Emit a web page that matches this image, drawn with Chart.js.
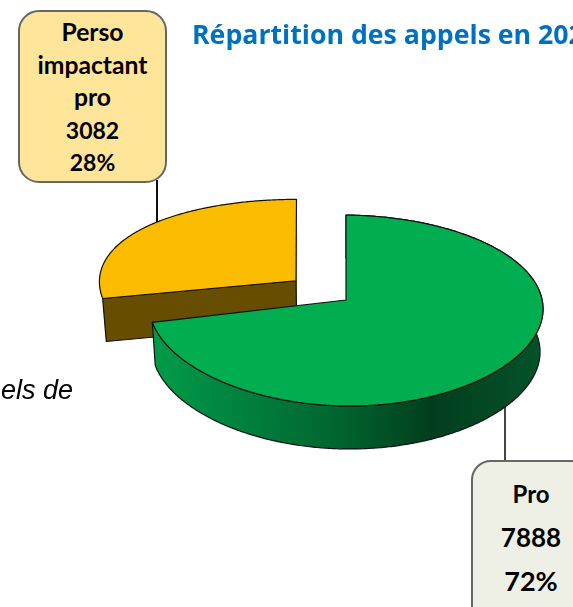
<!DOCTYPE html>
<html lang="fr"><head><meta charset="utf-8">
<style>
html,body{margin:0;padding:0;background:#fff;width:573px;height:607px;overflow:hidden}
#wrap{position:relative;width:573px;height:607px;overflow:hidden}
canvas{position:absolute;left:0;top:0}
.box{position:absolute;box-sizing:border-box;border:2px solid #666;text-align:center;font-family:Lato,sans-serif;font-weight:700;color:#000}
.line{position:absolute;width:2px}
#t{position:absolute;left:192px;top:15px;white-space:nowrap;font:700 26.7px "Open Sans",sans-serif;color:#0070C0;font-variant-ligatures:none}
#n{position:absolute;right:500px;top:375px;white-space:nowrap;font:italic 27px "Liberation Sans",sans-serif;color:#000}
</style></head><body>
<div id="wrap">
<div class="line" style="left:156px;top:180px;height:50px;background:#111"></div>
<div class="line" style="left:504px;top:400px;height:62px;background:#444"></div>
<canvas id="c" width="573" height="607"></canvas>
<div id="t"></div><div id="n"></div>
<div class="box" id="b1" style="left:18px;top:10px;width:149px;height:173px;border-radius:21px;background:#FEE599;padding-top:4px;line-height:32.5px"></div>
<div class="box" id="b2" style="left:471px;top:460px;width:120px;height:170px;border-radius:20px;background:#EEF0E6;padding-top:10px;line-height:43.5px"></div>
</div>
<script src="https://cdn.jsdelivr.net/npm/chart.js@4/dist/chart.umd.min.js"></script>
<script>
const titleText = "Répartition des appels en 2022";
const noteText = "els de";
const categories = ["Pro", "Perso impactant pro"];
const calloutLines = [["Pro"], ["Perso", "impactant", "pro"]];
const values = [7888, 3082];
const percents = ["72%", "28%"];
const topColors = ["#00AE50", "#FBBC00"];

document.getElementById('t').textContent = titleText;
document.getElementById('n').textContent = noteText;
function fill(id, i, wordPx, numPx, pctPx){
  const el = document.getElementById(id);
  const rows = calloutLines[i].map(s=>[s,wordPx]).concat([[String(values[i]),numPx],[percents[i],pctPx]]);
  rows.forEach(r=>{ const d=document.createElement('div'); d.textContent=r[0]; d.style.fontSize=r[1]+'px'; el.appendChild(d); });
}
fill('b2',0,24,26,27); fill('b1',1,24.7,23,23);

// projective view of the disc
const V = {cx:346, cy:300, c:197, a:94.3, by:0.11, bx:0.01, depth:43, s:0.985};
function proj(u, v, lower, lift){
  const x = V.c*u/(1-V.bx*v), y = V.a*v/(1-V.by*v) + (lift||0);
  return lower ? [V.cx+V.s*x, V.cy+V.depth+y] : [V.cx+x, V.cy+y];
}
function arcPts(a0, a1, ou, ov, lower, q, k){
  const n = Math.max(8, Math.ceil((a1-a0)/0.01)), p = [];
  for(let i=0;i<=n;i++){
    const t=a0+(a1-a0)*i/n, cu=Math.cos(t);
    p.push(proj(cu+ou, Math.sin(t)+ov, lower, q*cu*cu+k*cu));
  }
  return p;
}
function poly(ctx, pts, fillStyle, noStroke){
  ctx.beginPath(); pts.forEach((p,i)=> i?ctx.lineTo(p[0],p[1]):ctx.moveTo(p[0],p[1])); ctx.closePath();
  ctx.fillStyle=fillStyle; ctx.fill();
  if(!noStroke){ ctx.lineWidth=1.2; ctx.strokeStyle='#111'; ctx.lineJoin='round'; ctx.stroke(); }
}
function wallFill(ctx, i){
  if(i===1) return '#664D00';
  const g = ctx.createLinearGradient(152,0,540,0);
  g.addColorStop(0,'#009C4A'); g.addColorStop(0.25,'#007F3C'); g.addColorStop(0.5,'#00622F');
  g.addColorStop(0.72,'#023E1D'); g.addColorStop(1,'#04522A');
  return g;
}
const rimFit = [{q:6,k:2},{q:0,k:0}];
const pie3d = {
  id:'pie3d',
  beforeDatasetDraw(chart, args){
    const ctx = chart.ctx, arcs = args.meta.data;
    [1,0].forEach(i=>{
      const el = arcs[i], R = el.outerRadius, mid=(el.startAngle+el.endAngle)/2;
      const e = (el.options.offset||0)/R, ou=e*Math.cos(mid), ov=e*Math.sin(mid);
      const f = rimFit[i];
      const top = arcPts(el.startAngle, el.endAngle, ou, ov, false, f.q, f.k);
      const low = arcPts(el.startAngle, el.endAngle, ou, ov, true, f.q, f.k);
      const apexT = proj(ou,ov,false), apexL = proj(ou,ov,true);
      const wall = wallFill(ctx,i);
      if(i===1){
        poly(ctx,[apexT,top[top.length-1],low[low.length-1],apexL],'#B88A00',true);
        poly(ctx,[apexT,top[0],low[0],apexL],wall);
      } else {
        poly(ctx, top.concat(low.slice().reverse()), wall);
      }
      poly(ctx, [apexT].concat(top), el.options.backgroundColor);
    });
    return false;
  }
};
new Chart(document.getElementById('c'), {
  type:'pie',
  data:{labels:categories, datasets:[{data:values, backgroundColor:topColors, offset:[0,81], borderWidth:0}]},
  options:{responsive:false, animation:false, devicePixelRatio:1,
    plugins:{legend:{display:false}, tooltip:{enabled:false}, title:{display:false}}},
  plugins:[pie3d]
});
</script>
</body></html>
